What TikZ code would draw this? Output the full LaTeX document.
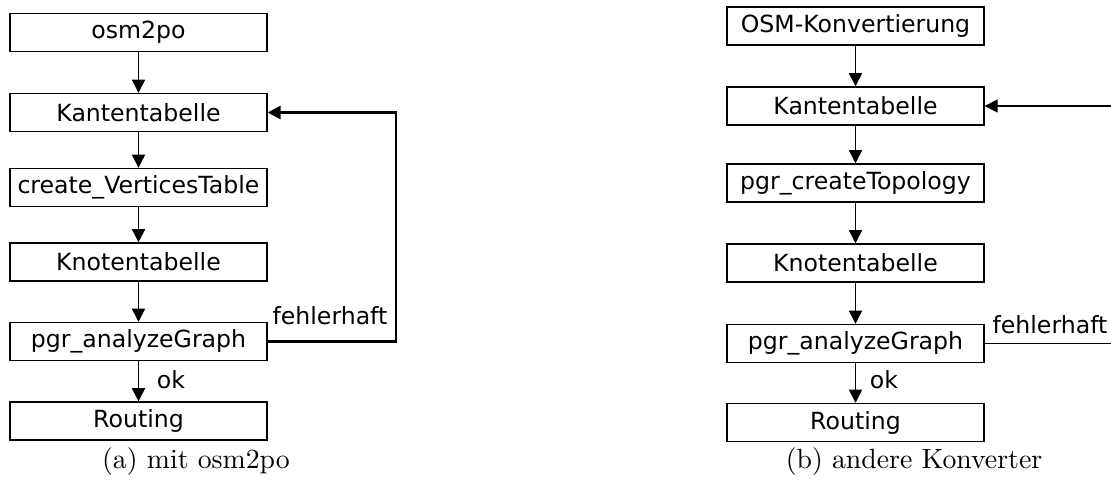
\documentclass[tikz,border=0pt]{standalone}
\usepackage{fontspec}
\usepackage{tikz}
\usetikzlibrary{arrows.meta,positioning}
\newfontfamily\flowfont{DejaVu Sans}

\begin{document}
\begin{tikzpicture}[x=0.36pt, y=-0.36pt,
      box/.style={draw, line width=0.5pt, minimum width=92.5pt, minimum height=13.7pt,
                  inner sep=0pt, font=\flowfont\fontsize{8.5}{10}\selectfont},
      lbl/.style={inner sep=0pt, font=\flowfont\fontsize{8.5}{10}\selectfont},
      flow/.style={-{Triangle[length=4.7pt,width=4.7pt]}, line width=0.5pt}]
    \useasboundingbox (0,0) rectangle (1111,492);
    % (a) mit osm2po
    \node[box] (o2p) at (138.5, 32.5) {osm2po};
    \node[box] (kt)  at (138.5,112.5) {Kantentabelle};
    \node[box] (cvt) at (138.5,187.5) {create\_VerticesTable};
    \node[box] (kn)  at (138.5,262)   {Knotentabelle};
    \node[box] (ag)  at (138.5,341.5) {pgr\_analyzeGraph};
    \node[box] (rt)  at (138.5,421)   {Routing};
    \draw[flow] (o2p.south) -- (kt.north);
    \draw[flow] (kt.south) -- (cvt.north);
    \draw[flow] (cvt.south) -- (kn.north);
    \draw[flow] (kn.south) -- (ag.north);
    \draw[flow] (ag.south) -- (rt.north);
    \coordinate (loop) at (396,341.5);
    \draw[flow, line width=1pt] (ag.east) -- (loop) |- (kt.east);
    \node[lbl] (fa) at (330,316) {fehlerhaft};
    \node[lbl] (oka) at (171,380) {ok};
    \node (capa) at (196,462) {(a) mit osm2po};
    % (b) andere Konverter
    \node[box] (osm) at (855.5, 26)   {OSM-Konvertierung};
    \node[box] (kt2) at (855.5,106)   {Kantentabelle};
    \node[box] (ct)  at (855.5,183)   {pgr\_createTopology};
    \node[box] (kn2) at (855.5,263)   {Knotentabelle};
    \node[box] (ag2) at (855.5,343.5) {pgr\_analyzeGraph};
    \node[box] (rt2) at (855.5,422.5) {Routing};
    \draw[flow] (osm.south) -- (kt2.north);
    \draw[flow] (kt2.south) -- (ct.north);
    \draw[flow] (ct.south) -- (kn2.north);
    \draw[flow] (kn2.south) -- (ag2.north);
    \draw[flow] (ag2.south) -- (rt2.north);
    \coordinate (back) at (1111,106);
    \coordinate (err) at (1111,343.5);
    \draw[flow] (back) -- (kt2.east);
    \draw[line width=0.5pt] (ag2.east) -- (err);
    \node[lbl] (fb) at (1050,325) {fehlerhaft};
    \node[lbl] (okb) at (884,380) {ok};
    \node (capb) at (914,462) {(b) andere Konverter};
\end{tikzpicture}
\end{document}
